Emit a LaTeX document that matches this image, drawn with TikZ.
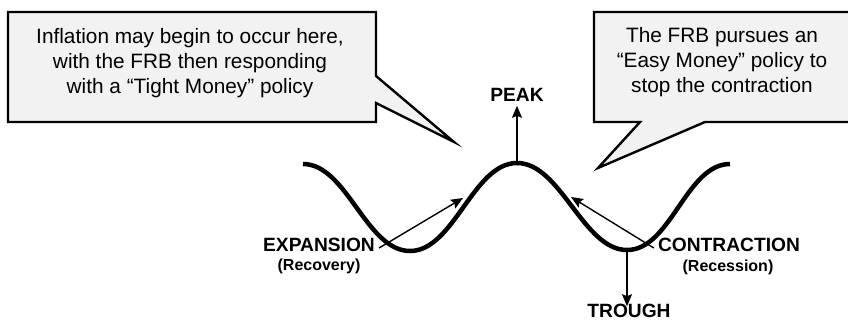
\documentclass[tikz,border=0pt]{standalone}
\usepackage{fontspec}
\setmainfont{Liberation Sans}
\usetikzlibrary{arrows.meta}
\definecolor{calloutfill}{HTML}{F2F2F2}
\tikzset{
  callout/.style={draw=black, line width=2.4pt, fill=calloutfill, line join=miter},
  callouttext/.style={align=center, font=\fontsize{20.8}{25}\selectfont, inner sep=0pt},
  caplabel/.style={font=\fontsize{19.2}{22}\selectfont\bfseries, text height=0.72em, text depth=0pt, inner sep=4pt},
  sublabel/.style={font=\fontsize{16}{18}\selectfont\bfseries, inner sep=0pt},
  wave/.style={line width=4.5pt},
  pointer/.style={line width=1.4pt, -{Stealth[length=12pt, width=10pt, inset=2pt]}}
}
\begin{document}
\begin{tikzpicture}[x=1pt, y=-1pt]
\useasboundingbox (0,0) rectangle (848,322);
\clip (0,0) rectangle (848,322);

% callouts
\draw[callout] (8,12) -- (376,12) -- (376,76) -- (454,142) -- (376,103) -- (376,122) -- (8,122) -- cycle;
\node[callouttext] (lefttext) at (190,63) {Inflation may begin to occur here,\\with the FRB then responding\\with a “Tight Money” policy};

\draw[callout] (594,12) -- (870,12) -- (870,122) -- (705,122) -- (598,168) -- (640,122) -- (594,122) -- cycle;
\node[callouttext] (righttext) at (722,62) {The FRB pursues an\\“Easy Money” policy to\\stop the contraction};

% wave
\draw[wave] (303,164) .. controls (347,164) and (366,251) .. (410,251)
  .. controls (454,251) and (473,163) .. (517,163)
  .. controls (561,163) and (583,250) .. (627,250)
  .. controls (671,250) and (686,164) .. (730,164);

\coordinate (peaktop) at (517,163);
\coordinate (troughbot) at (627,250);
\coordinate (exptip) at (463,198);
\coordinate (contip) at (571,197);

% labels
\node[caplabel] (peak) at (517,98) {PEAK};
\node[caplabel] (trough) at (629,314) {TROUGH};
\node[caplabel] (expansion) at (319,248) {EXPANSION};
\node[sublabel] (recovery) at (319,266) {(Recovery)};
\node[caplabel] (contraction) at (729,248) {CONTRACTION};
\node[sublabel] (recession) at (728,267) {(Recession)};

% arrows
\draw[pointer] (peaktop) -- (peak.south);
\draw[pointer] (troughbot) -- (trough.north -| troughbot);
\draw[pointer] (expansion.east) -- (exptip);
\draw[pointer] (contraction.west) -- (contip);
\end{tikzpicture}
\end{document}
